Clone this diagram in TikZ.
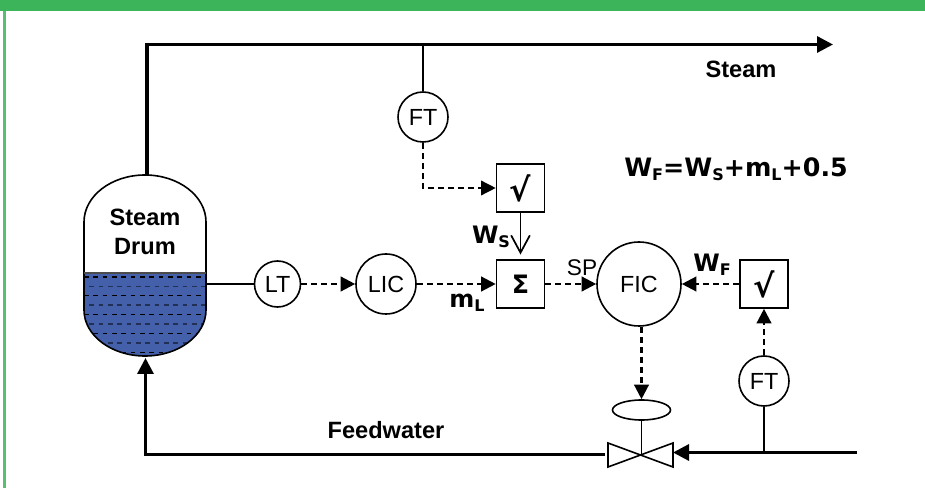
\documentclass[tikz,border=0pt]{standalone}
\usepackage{fontspec}
\setmainfont{Liberation Sans}
\newfontfamily\symf{DejaVu Sans}
\usetikzlibrary{arrows.meta,calc,shapes.geometric}
\definecolor{barg}{RGB}{60,180,90}
\definecolor{water}{RGB}{68,96,170}
\tikzset{
 x=0.75pt,y=-0.75pt,
 inst/.style={circle,draw,line width=1.2pt,fill=white,inner sep=0pt,font=\fontsize{17.5}{20}\selectfont},
 boxn/.style={rectangle,draw,line width=1.2pt,fill=white,inner sep=0pt,minimum size=36pt,font=\fontsize{19}{22}\selectfont\bfseries},
 lab/.style={inner sep=0pt,font=\fontsize{17.7}{21.7}\selectfont\bfseries,align=center},
 sublab/.style={inner sep=0pt,font=\fontsize{17}{20}\selectfont},
 sig/.style={line width=1.8pt,dash pattern=on 4.5pt off 3pt,-{Triangle[length=11pt,width=11pt]}},
 sigthin/.style={line width=1.1pt,dash pattern=on 4.5pt off 3pt,-{Triangle[length=11pt,width=11pt]}},
 pipe/.style={line width=2.4pt,-{Triangle[length=12pt,width=12pt]}},
 imp/.style={line width=1pt},
}
\newcommand{\wlab}[2]{{\bfseries #1\raisebox{-3pt}{\fontsize{12}{13}\selectfont #2}}}
\begin{document}
\begin{tikzpicture}
\useasboundingbox (0,0) rectangle (925,488);
\fill[white] (0,0) rectangle (925,488);
\fill[barg] (0,0) rectangle (925,11);
\fill[barg!85!white] (3,11) rectangle (6,488);
% drum
\coordinate (drumtop) at (147,175);
\coordinate (drumbot) at (145.5,358);
\coordinate (drumr) at (206,284);
\begin{scope}
\clip (84,273) -- (206,273) -- (206,310) arc[start angle=0,end angle=180,x radius=61,y radius=46] -- cycle;
\fill[water] (84,273) rectangle (206,357);
\foreach \yy in {277,295.8,314.6,333.4,352.2}{
  \draw[black,line width=0.9pt,dash pattern=on 3.5pt off 3.5pt] (84,\yy) -- (206,\yy);
}
\foreach \yy in {286.4,305.2,324,342.8}{
  \draw[black!50!water,line width=1.3pt,dash pattern=on 3.5pt off 3.5pt,dash phase=3pt] (84,\yy) -- (206,\yy);
}
\end{scope}
\draw[line width=1.2pt] (84,222) arc[start angle=180,end angle=360,x radius=61,y radius=47] -- (206,310) arc[start angle=0,end angle=180,x radius=61,y radius=46] -- cycle;
\draw[line width=0.9pt,black!70] (84,273) -- (206,273);
\node[lab] (drumlab) at (145,232) {Steam\\Drum};
% nodes
\node[inst,minimum size=37.5pt] (ft1) at (423,117) {FT};
\node[boxn] (sq1) at (520.5,188) {\fontsize{24}{26}\symf √};
\node[boxn] (sum) at (520.5,284) {\symf Σ};
\node[boxn] (sq2) at (764,284) {\fontsize{24}{26}\symf √};
\node[inst,minimum size=34.5pt] (lt) at (277.5,284) {LT};
\node[inst,minimum size=45pt] (lic) at (386,284) {LIC};
\node[inst,minimum size=63pt] (fic) at (639,284) {FIC};
\node[inst,minimum size=37.5pt] (ft2) at (764,381) {FT};
\node[draw,ellipse,line width=1.2pt,fill=white,minimum width=43.5pt,minimum height=15pt,inner sep=0pt] (act) at (641.5,410) {};
% valve
\coordinate (vc) at (641.5,455);
\draw[line width=1.2pt] (608,443) -- (673,467) -- (673,443) -- (608,467) -- cycle;
\coordinate (vr) at (673,452.5);
\coordinate (vl) at (605,454.5);
% pipes
\coordinate (steamend) at (833,44.5);
\coordinate (corner1) at (147,44.5);
\coordinate (tap1) at (423,44.5);
\coordinate (fwin) at (857,452.5);
\coordinate (tap2) at (764,452.5);
\coordinate (corner2) at (145.5,454.5);
\draw[pipe] (drumtop) -- (corner1) -- (steamend);
\draw[pipe] (fwin) -- (vr);
\draw[pipe] (vl) -- (corner2) -- (drumbot);
\draw[imp] (tap1) -- (ft1.north);
\draw[imp] (tap2) -- (ft2.south);
\draw[imp] (vc) -- (act.south);
\draw[imp] (drumr) -- (lt.west);
% signals
\draw[sigthin] (ft1.south) |- (sq1.west);
\draw[sig] (lt.east) -- (lic.west);
\draw[sig] (lic.east) -- (sum.west);
\draw[sig] (sum.east) -- (fic.west);
\draw[sig] (sq2.west) -- (fic.east);
\draw[sig] (ft2.north) -- (sq2.south);
\draw[sig] (act.north |- fic.south) -- (act.north);
\draw[line width=1.3pt,shorten >=3.5pt,-{Straight Barb[length=13pt,width=14pt]}] (sq1.south) -- (sum.north);
% labels
\node[lab] (steam) at (741,69) {Steam};
\node[lab] (feed) at (386,430) {Feedwater};
\node[sublab] (sp) at (582,268) {SP};
\node[lab,font=\fontsize{18}{20}\symf] (ws) at (491,237) {\wlab{W}{S}};
\node[lab,font=\fontsize{18}{20}\symf] (wf) at (712,265) {\wlab{W}{F}};
\node[lab,font=\fontsize{18}{20}\symf] (ml) at (467,303) {\wlab{m}{L}};
\node[lab,font=\fontsize{19}{21}\symf] (eq) at (736,169) {\wlab{W}{F}{\bfseries=}\wlab{W}{S}{\bfseries+}\wlab{m}{L}{\bfseries+0.5}};
\end{tikzpicture}
\end{document}
